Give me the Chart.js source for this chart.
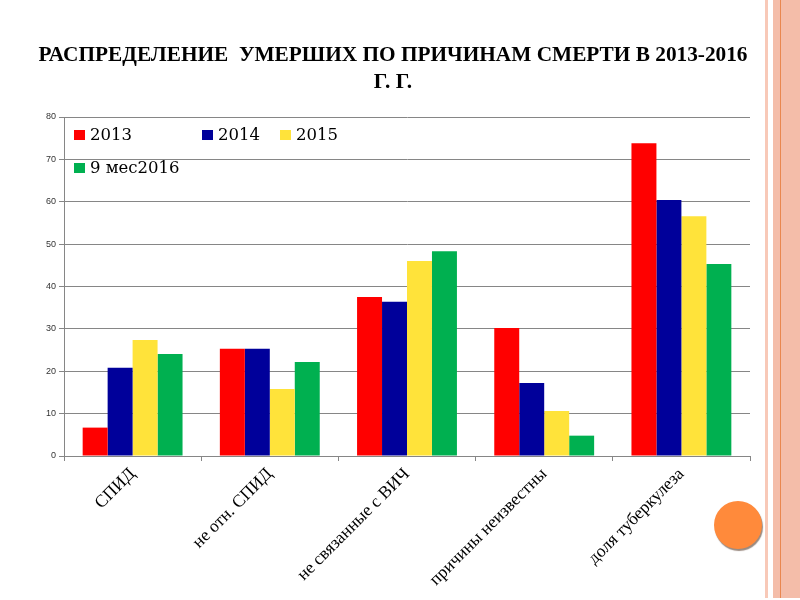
<!DOCTYPE html>
<html>
<head>
<meta charset="utf-8">
<script src="https://cdn.jsdelivr.net/npm/chart.js@4/dist/chart.umd.min.js"></script>
<style>
  html, body { margin: 0; padding: 0; background: #fff; }
  #wrap { position: relative; width: 800px; height: 600px; overflow: hidden; }
  canvas { position: absolute; left: 0; top: 0; }
  .stripe { position: absolute; top: 0; height: 598px; }
  #circle { position: absolute; left: 714px; top: 501px; width: 48px; height: 48px; border-radius: 50%;
            background: #FF8A3B; box-shadow: 1px 2px 1px #9a8a80; }
</style>
</head>
<body>
<div id="wrap">
  <canvas id="c" width="800" height="600"></canvas>
  <div class="stripe" style="left:765px;width:3px;background:#F8C9B8;"></div>
  <div class="stripe" style="left:773px;width:27px;background:#F4BDA9;"></div>
  <div class="stripe" style="left:780px;width:1px;background:#E9874F;"></div>
  <div id="circle"></div>
</div>
<script>
const categories = ["СПИД", "не отн. СПИД", "не связанные с ВИЧ", "причины неизвестны", "доля туберкулеза"];
const seriesNames = ["2013", "2014", "2015", "9 мес2016"];
const values2013 = [6.7, 25.3, 37.5, 30.2, 73.8];
const values2014 = [20.8, 25.3, 36.4, 17.2, 60.4];
const values2015 = [27.4, 15.8, 46.0, 10.6, 56.6];
const values2016 = [24.1, 22.2, 48.3, 4.8, 45.3];
const titleLines = ["РАСПРЕДЕЛЕНИЕ  УМЕРШИХ ПО ПРИЧИНАМ СМЕРТИ В 2013-2016", "Г. Г."];
const colors = ["#FF0000", "#00009A", "#FFE33A", "#00B050"];

const allValues = [values2013, values2014, values2015, values2016];

const legendPlugin = {
  id: 'insideLegend',
  afterDraw(chart) {
    const ctx = chart.ctx;
    const a = chart.chartArea;
    const slots = [
      { dx: 10, dy: 18 },
      { dx: 138, dy: 18 },
      { dx: 216, dy: 18 },
      { dx: 10, dy: 51 }
    ];
    ctx.save();
    ctx.font = '16.5px "DejaVu Serif"';
    ctx.textBaseline = 'middle';
    ctx.textAlign = 'left';
    chart.data.datasets.forEach((ds, i) => {
      const s = slots[i];
      const x = a.left + s.dx, y = a.top + s.dy;
      ctx.fillStyle = ds.backgroundColor;
      ctx.fillRect(x, y - 5, 11, 10);
      ctx.fillStyle = '#000';
      ctx.fillText(ds.label, x + 16, y + 1);
    });
    ctx.restore();
  }
};

new Chart(document.getElementById('c'), {
  type: 'bar',
  data: {
    labels: categories,
    datasets: seriesNames.map((n, i) => ({
      label: n,
      data: allValues[i],
      backgroundColor: colors[i],
      borderWidth: 0,
      categoryPercentage: 0.728,
      barPercentage: 1.0
    }))
  },
  options: {
    responsive: false,
    animation: false,
    layout: { padding: { left: 36, right: 50, top: 0, bottom: 0 } },
    plugins: {
      legend: { display: false },
      tooltip: { enabled: false },
      title: {
        display: true,
        text: titleLines,
        color: '#000',
        font: { family: '"Liberation Serif"', size: 21.3, weight: 'bold', lineHeight: 1.27 },
        padding: { top: 41.5, bottom: 21.4 }
      }
    },
    scales: {
      x: {
        afterFit(s) { s.height = 144; },
        grid: { offset: true, drawOnChartArea: false, drawTicks: true, tickLength: 5, color: '#868686' },
        border: { color: '#868686', width: 1 },
        ticks: {
          autoSkip: false, minRotation: 45, maxRotation: 45, padding: 3,
          color: '#000', font: { family: '"Liberation Serif"', size: 17.5 }
        }
      },
      y: {
        min: 0, max: 80,
        afterFit(s) { s.width = 28; },
        grid: { color: '#868686', tickLength: 5, drawTicks: true },
        border: { color: '#868686', width: 1 },
        ticks: { stepSize: 10, padding: 3, color: '#333', font: { family: '"Liberation Sans"', size: 9 } }
      }
    }
  },
  plugins: [legendPlugin]
});
</script>
</body>
</html>
